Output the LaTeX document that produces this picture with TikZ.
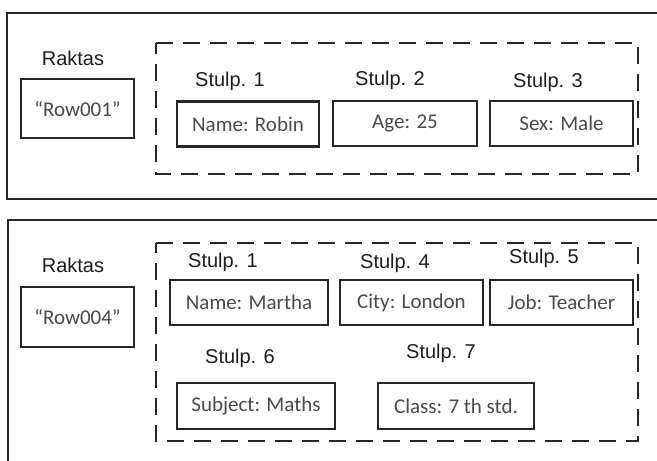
\documentclass[tikz,border=0pt]{standalone}
\usepackage{fontspec}
\setmainfont{Liberation Sans}
\newfontfamily\boxfont{Carlito}
\definecolor{labelcol}{HTML}{1E1E1E}
\definecolor{boxtext}{HTML}{4A4A4A}
\begin{document}
\begin{tikzpicture}[x=1pt,y=-1pt,
  outerbox/.style={draw=black!85, line width=2pt},
  dashbox/.style={draw=black!85, line width=2.2pt, dash pattern=on 17pt off 10pt},
  cell/.style={draw=black!85, line width=2.3pt, rectangle, inner sep=0pt,
    minimum height=45pt, font=\boxfont\fontsize{21}{24}\selectfont, text=boxtext},
  lbl/.style={inner sep=0pt, font=\fontsize{20}{23}\selectfont, text=labelcol}]
\clip (0,0) rectangle (657,461);
\fill[white] (0,0) rectangle (657,461);

% top panel
\draw[outerbox] (7,13) rectangle (670,199);
\draw[dashbox] (156,43) -- (638,43) -- (638,174) -- (156,174) -- cycle;
\node[lbl] (r1) at (73,58) {Raktas};
\node[cell, minimum width=113pt, minimum height=59pt] (row1) at (77.5,108.5) {“Row001”};
\node[lbl] (s1a) at (230,81) {Stulp. 1};
\node[lbl] (s2a) at (390,80) {Stulp. 2};
\node[lbl] (s3a) at (548,82) {Stulp. 3};
\node[cell, minimum width=142pt] (robin) at (248,124) {Name: Robin};
\node[cell, minimum width=144pt] (age) at (405,123.5) {Age: 25};
\node[cell, minimum width=143pt] (sex) at (561.5,123.5) {Sex: Male};

% bottom panel
\draw[outerbox] (8,220) rectangle (670,480);
\draw[dashbox] (156,243) -- (638,243) -- (638,441) -- (156,441) -- cycle;
\node[lbl] (r2) at (73,265) {Raktas};
\node[cell, minimum width=113pt, minimum height=60pt] (row4) at (77.5,317) {“Row004”};
\node[lbl] (s1b) at (223,262) {Stulp. 1};
\node[lbl] (s4b) at (395,263) {Stulp. 4};
\node[lbl] (s5b) at (544,258) {Stulp. 5};
\node[lbl] (s6b) at (240,358) {Stulp. 6};
\node[lbl] (s7b) at (441,353) {Stulp. 7};
\node[cell, minimum width=158pt] (martha) at (249,302.5) {Name: Martha};
\node[cell, minimum width=143pt] (city) at (411.5,302.5) {City: London};
\node[cell, minimum width=143pt] (job) at (561.5,302.5) {Job: Teacher};
\node[cell, minimum width=158pt, minimum height=46pt] (subj) at (256,406) {Subject: Maths};
\node[cell, minimum width=156pt, minimum height=46pt] (class) at (456,406) {Class: 7 th std.};
\end{tikzpicture}
\end{document}
